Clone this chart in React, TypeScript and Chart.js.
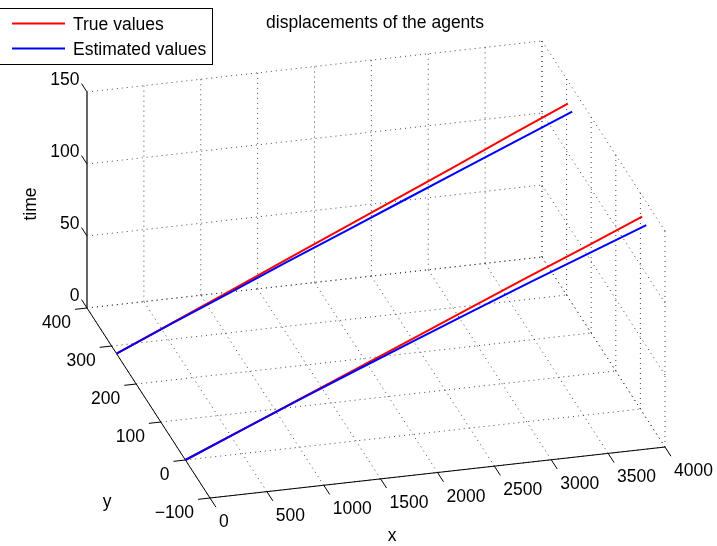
import React, { useEffect, useRef } from "react";
import { Chart, registerables } from "chart.js";

Chart.register(...registerables);

// ---- data ----
const TIME = [0, 17, 34, 51, 68, 85, 102, 119, 136];

const AGENT1_TRUE_X = [0, 500, 1000, 1495, 1995, 2490, 2990, 3490, 3987];
const AGENT1_TRUE_Y = [280, 281, 282, 283, 284, 285, 286, 288, 289];
const AGENT1_EST_X = [0, 500, 1000, 1495, 1993, 2488, 2985, 3482, 3980];
const AGENT1_EST_Y = [280, 280, 279, 278, 276, 274, 272, 270, 268];

const AGENT2_TRUE_X = [0, 500, 1000, 1500, 2000, 2497, 2997, 3497, 3996];
const AGENT2_TRUE_Y = [0, -1, -2, -3, -4, -5, -6, -8, -9];
const AGENT2_EST_X = [0, 500, 1000, 1498, 1996, 2494, 2991, 3488, 3985];
const AGENT2_EST_Y = [0, -1, -3, -6, -10, -14, -19, -25, -31];

const X_TICKS = [0, 500, 1000, 1500, 2000, 2500, 3000, 3500, 4000];
const Y_TICKS = [-100, 0, 100, 200, 300, 400];
const Z_TICKS = [0, 50, 100, 150];

const X_LIM = [0, 4000];
const Y_LIM = [-100, 400];
const Z_LIM = [0, 150];

const TITLE = "displacements of the agents";
const X_LABEL = "x";
const Y_LABEL = "y";
const Z_LABEL = "time";
const LEGEND_LABELS = ["True values", "Estimated values"];

// ---- view (orthographic projection of the 3-D box onto the canvas) ----
const W = 717;
const H = 546;
const ORIGIN = { u: 210, v: 498 }; // (xmin, ymin, zmin)
const EX = { u: 455, v: -51 }; // full x span
const EY = { u: -123, v: -190 }; // full y span
const EZ = { u: 0, v: -216 }; // full z span

const FONT = '17.5px "Liberation Sans", Arial, Helvetica, sans-serif';
const RED = "#ff0000";
const BLUE = "#0000ff";

function proj(x: number, y: number, z: number) {
  const fx = (x - X_LIM[0]) / (X_LIM[1] - X_LIM[0]);
  const fy = (y - Y_LIM[0]) / (Y_LIM[1] - Y_LIM[0]);
  const fz = (z - Z_LIM[0]) / (Z_LIM[1] - Z_LIM[0]);
  return {
    u: ORIGIN.u + fx * EX.u + fy * EY.u + fz * EZ.u,
    v: ORIGIN.v + fx * EX.v + fy * EY.v + fz * EZ.v,
  };
}

function series(xs: number[], ys: number[], ts: number[]) {
  return ts.map((t, i) => {
    const p = proj(xs[i], ys[i], t);
    return { x: p.u, y: p.v };
  });
}

function unit(v: { u: number; v: number }) {
  const n = Math.hypot(v.u, v.v);
  return { u: v.u / n, v: v.v / n };
}

const box3dPlugin = {
  id: "box3d",
  beforeDatasetsDraw(chart: any) {
    const ctx = chart.ctx as CanvasRenderingContext2D;
    const sx = chart.scales.x;
    const sy = chart.scales.y;
    const P = (x: number, y: number, z: number) => {
      const p = proj(x, y, z);
      return { x: sx.getPixelForValue(p.u), y: sy.getPixelForValue(p.v) };
    };
    const seg = (a: any, b: any) => {
      ctx.beginPath();
      ctx.moveTo(a.x, a.y);
      ctx.lineTo(b.x, b.y);
      ctx.stroke();
    };
    const [x0, x1] = X_LIM;
    const [y0, y1] = Y_LIM;
    const [z0, z1] = Z_LIM;

    ctx.save();
    // dotted grid on the floor, back wall and side wall
    ctx.strokeStyle = "rgba(40,40,40,0.85)";
    ctx.lineWidth = 1;
    ctx.setLineDash([1, 4]);
    X_TICKS.forEach((x) => {
      seg(P(x, y0, z0), P(x, y1, z0));
      seg(P(x, y1, z0), P(x, y1, z1));
    });
    Y_TICKS.forEach((y) => {
      seg(P(x0, y, z0), P(x1, y, z0));
      seg(P(x1, y, z0), P(x1, y, z1));
    });
    Z_TICKS.forEach((z) => {
      seg(P(x0, y1, z), P(x1, y1, z));
      seg(P(x1, y0, z), P(x1, y1, z));
    });
    ctx.setLineDash([]);

    // axis lines
    ctx.strokeStyle = "#000";
    ctx.lineWidth = 1;
    seg(P(x0, y0, z0), P(x1, y0, z0));
    seg(P(x0, y0, z0), P(x0, y1, z0));
    ctx.strokeStyle = "#666";
    ctx.lineWidth = 2;
    seg(P(x0, y1, z0), P(x0, y1, z1));

    // ticks + labels
    ctx.strokeStyle = "#000";
    ctx.lineWidth = 1;
    ctx.fillStyle = "#000";
    ctx.font = FONT;
    const dY = unit(EY);
    const dX = unit(EX);

    // x ticks (pointing -y)
    ctx.textAlign = "left";
    ctx.textBaseline = "middle";
    X_TICKS.forEach((x) => {
      const a = P(x, y0, z0);
      const b = { x: a.x - dY.u * 11, y: a.y - dY.v * 11 };
      seg(a, b);
      ctx.fillText(String(x), b.x + 3, b.y + 15);
    });
    // y ticks (pointing -x)
    ctx.textAlign = "right";
    Y_TICKS.forEach((y) => {
      const a = P(x0, y, z0);
      const b = { x: a.x - dX.u * 12, y: a.y - dX.v * 12 };
      seg(a, b);
      const s = y < 0 ? "\u2212" + String(-y) : String(y);
      ctx.fillText(s, b.x - 4, b.y + 13.5);
    });
    // z ticks (pointing +y)
    Z_TICKS.forEach((z) => {
      const a = P(x0, y1, z);
      const b = { x: a.x + dY.u * 10, y: a.y + dY.v * 10 };
      seg(a, b);
      ctx.fillText(String(z), b.x - 2, b.y - 3.5);
    });

    // axis titles
    ctx.textAlign = "center";
    ctx.fillText(X_LABEL, 392, 536);
    ctx.fillText(Y_LABEL, 107, 502);
    ctx.save();
    ctx.translate(31, 204);
    ctx.rotate(-Math.PI / 2);
    ctx.fillText(Z_LABEL, 0, 0);
    ctx.restore();
    ctx.restore();
  },
  afterDraw(chart: any) {
    const ctx = chart.ctx as CanvasRenderingContext2D;
    ctx.save();
    ctx.font = FONT;
    ctx.fillStyle = "#000";
    ctx.textAlign = "center";
    ctx.textBaseline = "middle";
    ctx.fillText(TITLE, 375, 23);

    // legend box
    ctx.fillStyle = "#fff";
    ctx.fillRect(-1, 8, 214, 56);
    ctx.strokeStyle = "#000";
    ctx.lineWidth = 1;
    ctx.strokeRect(-0.5, 8.5, 213, 56);
    const colors = [RED, BLUE];
    LEGEND_LABELS.forEach((lab, i) => {
      const y = 23.5 + i * 25;
      ctx.strokeStyle = colors[i];
      ctx.lineWidth = 2;
      ctx.beginPath();
      ctx.moveTo(12, y);
      ctx.lineTo(65, y);
      ctx.stroke();
      ctx.fillStyle = "#000";
      ctx.textAlign = "left";
      ctx.fillText(lab, 73, y + 1.5);
    });
    ctx.restore();
  },
};

export default function App() {
  const ref = useRef<HTMLCanvasElement | null>(null);
  useEffect(() => {
    if (!ref.current) return;
    const mk = (label: string, color: string, data: any[], order: number) => ({
      label,
      data,
      order,
      borderColor: color,
      backgroundColor: color,
      borderWidth: 2,
      pointRadius: 0,
      showLine: true,
      fill: false,
      tension: 0,
    });
    const chart = new Chart(ref.current, {
      type: "scatter",
      data: {
        datasets: [
          mk(LEGEND_LABELS[0], RED, series(AGENT1_TRUE_X, AGENT1_TRUE_Y, TIME), 2),
          mk(LEGEND_LABELS[1], BLUE, series(AGENT1_EST_X, AGENT1_EST_Y, TIME), 1),
          mk(LEGEND_LABELS[0], RED, series(AGENT2_TRUE_X, AGENT2_TRUE_Y, TIME), 2),
          mk(LEGEND_LABELS[1], BLUE, series(AGENT2_EST_X, AGENT2_EST_Y, TIME), 1),
        ],
      },
      options: {
        animation: false,
        responsive: false,
        maintainAspectRatio: false,
        layout: { padding: 0 },
        plugins: {
          legend: { display: false },
          title: { display: false },
          tooltip: { enabled: false },
        },
        scales: {
          x: { type: "linear", min: 0, max: W, display: false },
          y: { type: "linear", min: 0, max: H, reverse: true, display: false },
        },
      } as any,
      plugins: [box3dPlugin],
    });
    return () => chart.destroy();
  }, []);
  return (
    <div style={{ position: "fixed", left: 0, top: 0, width: W, height: H, background: "#fff" }}>
      <canvas ref={ref} width={W} height={H} />
    </div>
  );
}
